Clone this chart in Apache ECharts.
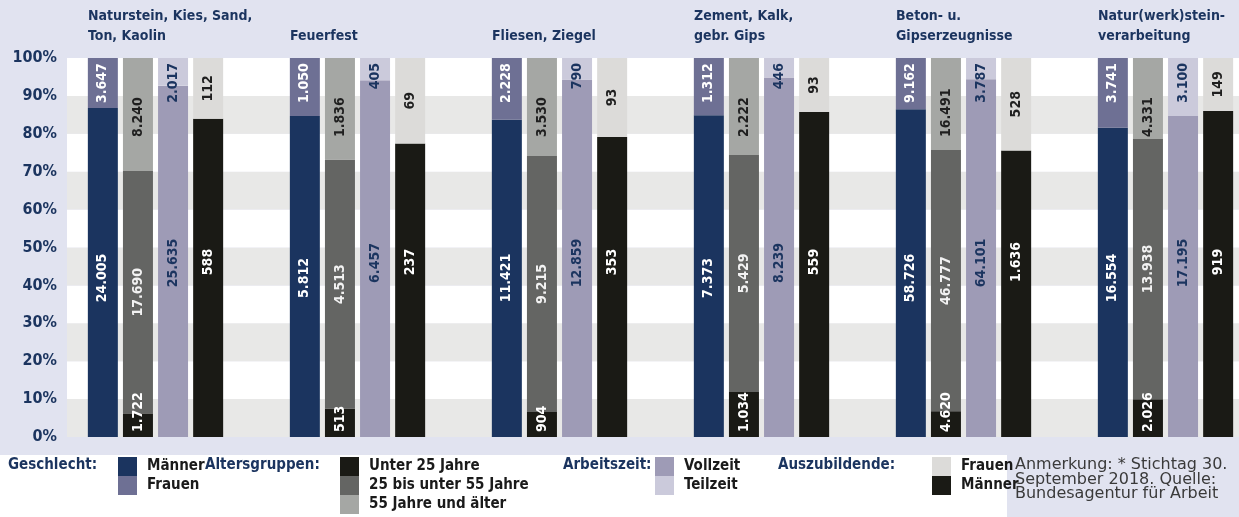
<!DOCTYPE html>
<html>
<head>
<meta charset="utf-8">
<script src="https://cdn.jsdelivr.net/npm/echarts@6/dist/echarts.min.js"></script>
<style>
    html, body {margin: 0; padding: 0; background: #e1e3f0;}
    #chart {width: 1239px; height: 517px;}
</style>
</head>
<body>
<div id="chart"></div>
<script>
const branchen = ['Naturstein, Kies, Sand,\nTon, Kaolin', 'Feuerfest', 'Fliesen, Ziegel',
    'Zement, Kalk,\ngebr. Gips', 'Beton- u.\nGipserzeugnisse', 'Natur(werk)stein-\nverarbeitung'];
const yTicks = [0, 10, 20, 30, 40, 50, 60, 70, 80, 90, 100];

// Beschäftigte nach Geschlecht
const maenner = [24005, 5812, 11421, 7373, 58726, 16554];
const frauen = [3647, 1050, 2228, 1312, 9162, 3741];
// Altersgruppen
const unter25 = [1722, 513, 904, 1034, 4620, 2026];
const von25bis55 = [17690, 4513, 9215, 5429, 46777, 13938];
const ab55 = [8240, 1836, 3530, 2222, 16491, 4331];
// Arbeitszeit
const vollzeit = [25635, 6457, 12859, 8239, 64101, 17195];
const teilzeit = [2017, 405, 790, 446, 3787, 3100];
// Auszubildende
const azubiFrauen = [112, 69, 93, 93, 528, 149];
const azubiMaenner = [588, 237, 353, 559, 1636, 919];

const FONT = "'DejaVu Sans Condensed', 'Liberation Sans Narrow', sans-serif";
const NAVY = '#1b345f';

function fmt(v) {
    return String(v).replace(/\B(?=(\d{3})+(?!\d))/g, '.');
}

// jeder Balken = 100 %
function anteile(teile) {
    const summen = teile[0].map((_, i) => teile.reduce((s, t) => s + t[i], 0));
    return teile.map(t => t.map((v, i) => ({value: v / summen[i] * 100, anzahl: v})));
}

const geschlecht = anteile([maenner, frauen]);
const alter = anteile([unter25, von25bis55, ab55]);
const arbeitszeit = anteile([vollzeit, teilzeit]);
const azubis = anteile([azubiMaenner, azubiFrauen]);

function balken(name, stack, data, color, label) {
    return {
        name: name,
        type: 'bar',
        stack: stack,
        data: data,
        xAxisIndex: 0,
        yAxisIndex: 0,
        barWidth: 30,
        barGap: '17%',
        itemStyle: {color: color},
        emphasis: {disabled: true},
        label: Object.assign({
            show: true,
            rotate: 90,
            fontFamily: FONT,
            fontWeight: 'bold',
            fontSize: 14,
            formatter: p => fmt(p.data.anzahl)
        }, label)
    };
}

function legende(left, data) {
    return {
        orient: 'vertical',
        left: left,
        top: 457,
        padding: 0,
        itemGap: 0,
        itemWidth: 19,
        itemHeight: 19,
        icon: 'rect',
        selectedMode: false,
        data: data,
        formatter: n => n.split('|')[1],
        textStyle: {fontFamily: FONT, fontWeight: 'bold', fontSize: 15, color: '#1a1a1a', padding: [0, 0, 0, 5]}
    };
}

function ueberschrift(x, text) {
    return {
        type: 'text', left: x, top: 458,
        style: {text: text, fill: NAVY, font: 'bold 15px ' + FONT}
    };
}

let chart = echarts.init(document.getElementById('chart'));
chart.setOption({
    animation: false,
    grid: [
        {left: 54.5, top: 58, width: 1212, bottom: 80, outerBoundsMode: 'none'},
        {left: 67, top: 58, right: 0, bottom: 80, outerBoundsMode: 'none'},
        {left: -13, top: 58, width: 1212, bottom: 80, outerBoundsMode: 'none'}
    ],
    xAxis: [
        {type: 'category', gridIndex: 0, data: branchen, show: false},
        {type: 'value', gridIndex: 1, min: 0, max: 1, show: false},
        {
            type: 'category', gridIndex: 2, data: branchen, position: 'top',
            axisLine: {show: false}, axisTick: {show: false},
            axisLabel: {
                interval: 0, align: 'left', verticalAlign: 'bottom', margin: 12,
                lineHeight: 20, color: NAVY, fontFamily: FONT, fontWeight: 'bold', fontSize: 14
            }
        }
    ],
    yAxis: [
        {type: 'value', gridIndex: 0, min: 0, max: 100, show: false},
        {
            type: 'value', gridIndex: 1, min: yTicks[0], max: yTicks[yTicks.length - 1], interval: 10,
            axisLine: {show: false}, axisTick: {show: false},
            splitLine: {show: false},
            splitArea: {show: true, areaStyle: {color: ['#e8e8e7', '#ffffff']}},
            axisLabel: {
                formatter: '{value}%', margin: 10, color: NAVY,
                fontFamily: FONT, fontWeight: 'bold', fontSize: 16
            }
        },
        {type: 'value', gridIndex: 2, min: 0, max: 100, show: false}
    ],
    legend: [
        legende(118, ['G|Männer', 'G|Frauen']),
        legende(340, ['A|Unter 25 Jahre', 'A|25 bis unter 55 Jahre', 'A|55 Jahre und älter']),
        legende(655, ['Z|Vollzeit', 'Z|Teilzeit']),
        legende(932, ['B|Frauen', 'B|Männer'])
    ],
    graphic: [
        {type: 'rect', left: 0, top: 455, z: -10, shape: {width: 1007, height: 62}, style: {fill: '#ffffff'}},
        ueberschrift(8, 'Geschlecht:'),
        ueberschrift(205, 'Altersgruppen:'),
        ueberschrift(563, 'Arbeitszeit:'),
        ueberschrift(778, 'Auszubildende:'),
        {
            type: 'text', left: 1015, top: 457,
            style: {
                text: 'Anmerkung: * Stichtag 30.\nSeptember 2018. Quelle:\nBundesagentur für Arbeit',
                fill: '#3a3a3a', font: "16px 'DejaVu Sans', sans-serif", lineHeight: 14.5
            }
        }
    ],
    series: [
        balken('G|Männer', 'g', geschlecht[0], '#1b345f',
            {position: 'insideBottom', distance: 159, align: 'center', verticalAlign: 'middle', color: '#fff'}),
        balken('G|Frauen', 'g', geschlecht[1], '#6e7094',
            {position: 'insideTop', distance: 45, align: 'left', verticalAlign: 'middle', color: '#fff'}),
        balken('A|Unter 25 Jahre', 'a', alter[0], '#1a1a15',
            {position: 'insideBottom', distance: 5, align: 'left', verticalAlign: 'middle', color: '#fff'}),
        balken('A|25 bis unter 55 Jahre', 'a', alter[1], '#646563',
            {position: 'inside', align: 'center', verticalAlign: 'middle', color: '#f2f2f2'}),
        balken('A|55 Jahre und älter', 'a', alter[2], '#a5a7a4',
            {position: 'insideTop', distance: 79, align: 'left', verticalAlign: 'middle', color: '#1f1f1f'}),
        balken('Z|Vollzeit', 'z', arbeitszeit[0], '#9e9bb6',
            {position: 'insideBottom', distance: 174, align: 'center', verticalAlign: 'middle', color: NAVY}),
        balken('Z|Teilzeit', 'z', arbeitszeit[1], '#cbcadb',
            {position: 'insideTop', distance: 5, align: 'right', verticalAlign: 'middle', color: NAVY}),
        balken('B|Männer', 'b', azubis[0], '#1a1a15',
            {position: 'insideBottom', distance: 175, align: 'center', verticalAlign: 'middle', color: '#fff'}),
        balken('B|Frauen', 'b', azubis[1], '#dcdbd9',
            {position: 'inside', align: 'center', verticalAlign: 'middle', color: '#1f1f1f'})
    ]
});
</script>
</body>
</html>
